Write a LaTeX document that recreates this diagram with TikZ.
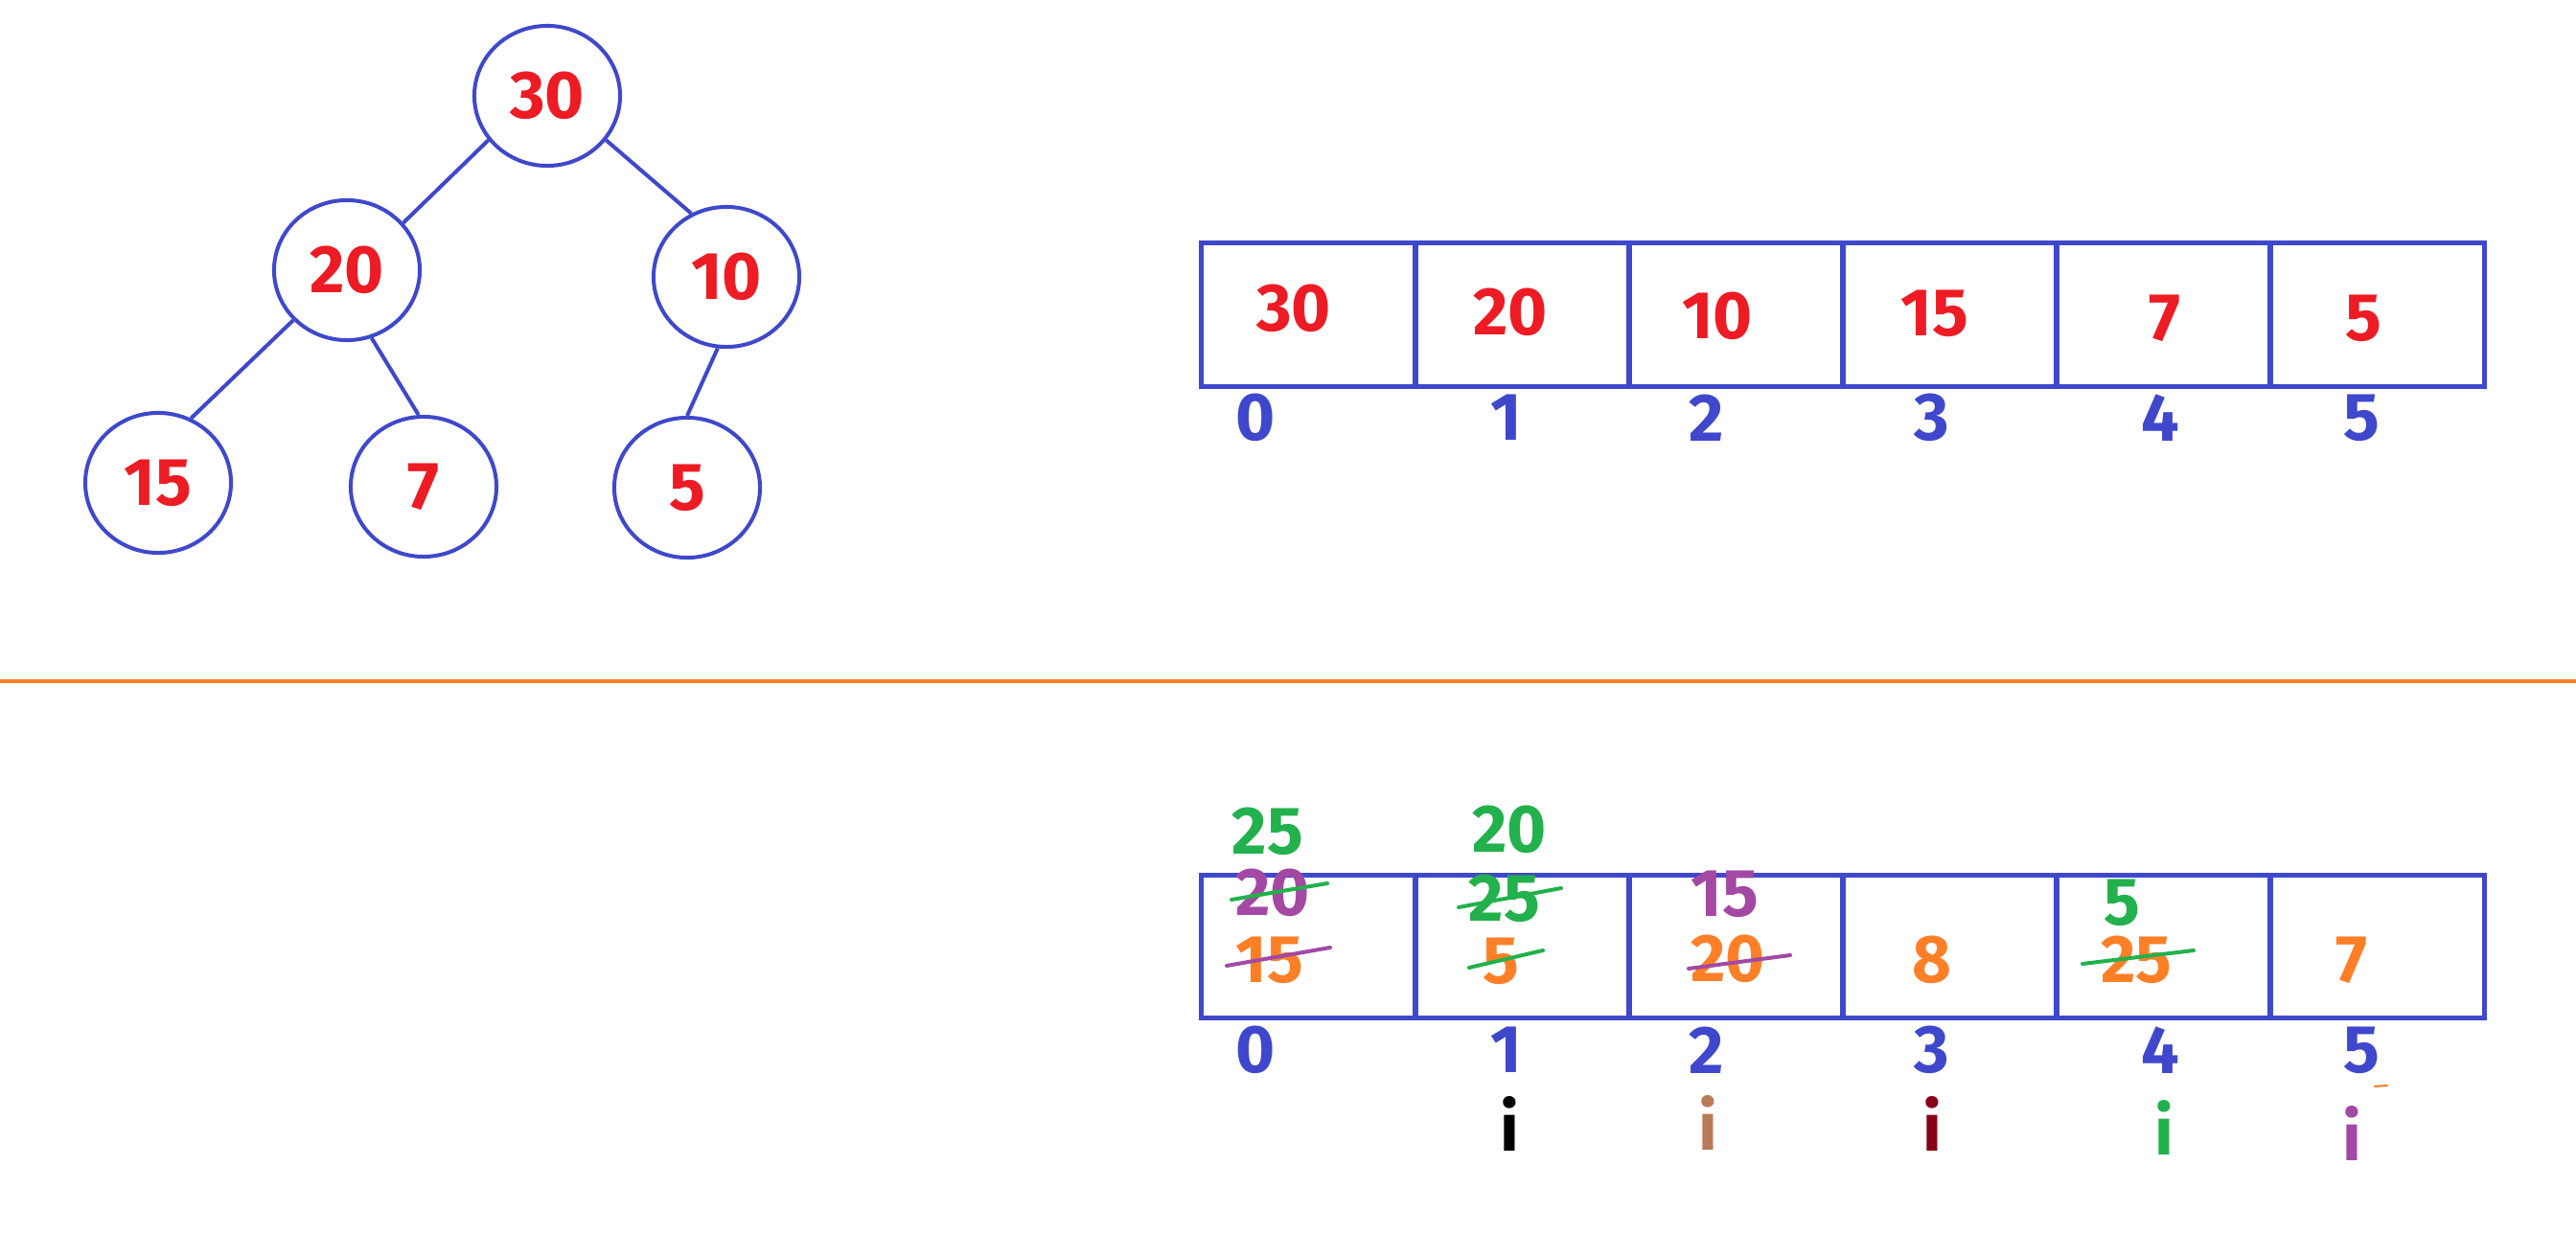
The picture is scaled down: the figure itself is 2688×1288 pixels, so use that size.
\documentclass[tikz,border=0pt]{standalone}
\usepackage{fontspec}
\setmainfont{Fira Sans}
\usetikzlibrary{shapes.geometric}
\definecolor{pblue}{RGB}{63,72,204}
\definecolor{pred}{RGB}{237,28,36}
\definecolor{pgreen}{RGB}{34,177,76}
\definecolor{porange}{RGB}{255,127,39}
\definecolor{ppurple}{RGB}{163,73,164}
\definecolor{pbrown}{RGB}{185,122,87}
\definecolor{pdred}{RGB}{136,0,21}
\begin{document}
\begin{tikzpicture}[x=0.01cm,y=-0.01cm,
  every node/.style={font=\fontsize{20}{24}\selectfont\bfseries, inner sep=0pt},
  treenode/.style={ellipse, draw=pblue, line width=1.14pt, minimum width=1.52cm, minimum height=1.46cm, text=pred},
  cell/.style={rectangle, draw=pblue, line width=1.42pt, minimum width=2.23cm, minimum height=1.49cm},
  val/.style={text=pred},
  idx/.style={text=pblue},
  treeedge/.style={draw=pblue, line width=1.14pt},
  strike/.style={line width=1.14pt, line cap=round},
]
\useasboundingbox (0,0) rectangle (2688,1288);
\fill[white] (0,0) rectangle (2688,1288);

% tree
\node[treenode] (n30) at (571,100) {30};
\node[treenode] (n20) at (362,282) {20};
\node[treenode] (n10) at (758,289) {10};
\node[treenode] (n15) at (165,504) {15};
\node[treenode] (n7)  at (442,508) {7};
\node[treenode] (n5)  at (717,509) {5};
\draw[treeedge] (n30.217) -- (n20.40);
\draw[treeedge] (n30.323) -- (n10.119);
\draw[treeedge] (n20.223) -- (n15.63);
\draw[treeedge] (n20.290) -- (n7.94);
\draw[treeedge] (n10.263) -- (n5.90);

% top array
\foreach \i in {0,...,5} {
  \node[cell] (t\i) at ({1254+223*(\i+0.5)},328.5) {};
}
\node[val] (tv0) at (1350,322) {30};
\node[val] (tv1) at (1576,326) {20};
\node[val] (tv2) at (1792,330) {10};
\node[val] (tv3) at (2019,327) {15};
\node[val] (tv4) at (2259,332) {7};
\node[val] (tv5) at (2466,332) {5};
\node[idx] (ti0) at (1310,436) {0};
\node[idx] (ti1) at (1572,436) {1};
\node[idx] (ti2) at (1781,436) {2};
\node[idx] (ti3) at (2016,436) {3};
\node[idx] (ti4) at (2254,436) {4};
\node[idx] (ti5) at (2464,436) {5};

% separator
\coordinate (sepL) at (0,711);
\coordinate (sepR) at (2688,711);
\draw[porange, line width=1pt] (sepL) -- (sepR);

% bottom array
\foreach \i in {0,...,5} {
  \node[cell] (b\i) at ({1254+223*(\i+0.5)},988) {};
}
\node[text=pgreen]  (g25a) at (1323,868) {25};
\node[text=ppurple] (p20a) at (1328,932) {20};
\node[text=porange] (o15)  at (1325,1002) {15};
\node[text=pgreen]  (g20)  at (1575,866) {20};
\node[text=pgreen]  (g25b) at (1570,938) {25};
\node[text=porange] (o5)   at (1566,1003) {5};
\node[text=ppurple] (p15)  at (1800,933) {15};
\node[text=porange] (o20)  at (1803,1001) {20};
\node[text=porange] (o8)   at (2016,1002) {8};
\node[text=pgreen]  (g5)   at (2214,942) {5};
\node[text=porange] (o25)  at (2229,1002) {25};
\node[text=porange] (o7)   at (2454,1002) {7};

\draw[strike, pgreen]  (1285,939) -- (1385,922);
\draw[strike, ppurple] (1280,1008) -- (1388,989);
\draw[strike, pgreen]  (1522,947) -- (1629,927);
\draw[strike, pgreen]  (1533,1010) -- (1610,992);
\draw[strike, ppurple] (1762,1011) -- (1868,997);
\draw[strike, pgreen]  (2173,1006) -- (2289,992);

\node[idx] (bi0) at (1310,1096) {0};
\node[idx] (bi1) at (1572,1096) {1};
\node[idx] (bi2) at (1781,1096) {2};
\node[idx] (bi3) at (2016,1096) {3};
\node[idx] (bi4) at (2254,1096) {4};
\node[idx] (bi5) at (2464,1096) {5};

\node[text=black]   (i1) at (1575,1173) {i};
\node[text=pbrown]  (i2) at (1782,1172) {i};
\node[text=pdred]   (i3) at (2016,1173) {i};
\node[text=pgreen]  (i4) at (2258,1177) {i};
\node[text=ppurple] (i5) at (2454,1183) {i};

\draw[porange, line width=0.6pt, line cap=round] (2478,1134) -- (2491,1133);
\end{tikzpicture}
\end{document}
